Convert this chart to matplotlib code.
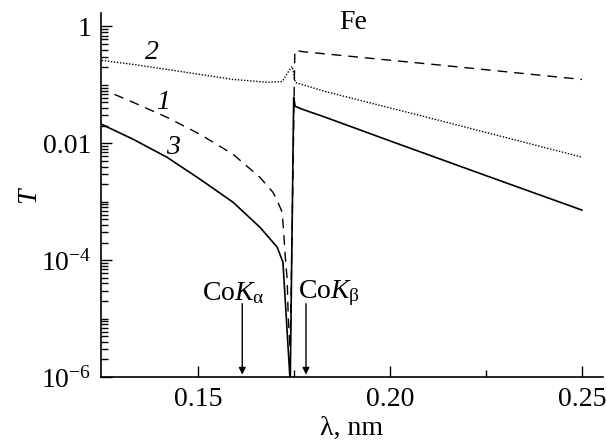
import numpy as np
import matplotlib
matplotlib.use("Agg")
import matplotlib.pyplot as plt
from matplotlib.ticker import FixedLocator, LogLocator, NullFormatter, FixedFormatter

plt.rcParams['font.family'] = ['Liberation Serif', 'DejaVu Serif']
plt.rcParams['mathtext.fontset'] = 'custom'
plt.rcParams['mathtext.rm'] = 'Liberation Serif'
plt.rcParams['mathtext.it'] = 'Liberation Serif:italic'

# curve 1 (dashed)
lam1 = [0.1282, 0.1331, 0.1419, 0.1505, 0.1591, 0.1661, 0.1695, 0.1708,
        0.1719, 0.1723, 0.1727, 0.1732, 0.1735, 0.1740,
        0.1752, 0.1773, 0.2125, 0.2500]
t1 = [0.0688, 0.0502, 0.0278, 0.01426, 0.00649, 0.00262, 0.00145, 9.8e-4,
      6.6e-4, 3.0e-4, 1.17e-4, 4.7e-5, 9.8e-6, 3.0e-6,
      0.39, 0.37, 0.22, 0.124]

# curve 2 (dotted)
lam2 = [0.1249, 0.1331, 0.1419, 0.1505, 0.1591, 0.1680, 0.1719, 0.1734, 0.1745,
        0.1748, 0.1753, 0.1831, 0.2125, 0.2500]
t2 = [0.262, 0.224, 0.184, 0.151, 0.124, 0.111, 0.114, 0.164, 0.207,
      0.17, 0.110, 0.077, 0.025, 0.0058]

# curve 3 (solid)
lam3 = [0.1249, 0.1331, 0.1419, 0.1505, 0.1591, 0.1661, 0.1706, 0.1721, 0.1740,
        0.1749, 0.1753, 0.1773, 0.1831, 0.2000, 0.2250, 0.2500]
t3 = [0.0211, 0.0117, 0.00577, 0.00243, 9.8e-4, 3.66e-4, 1.67e-4, 9.2e-5, 8.0e-7,
      0.061, 0.043, 0.038, 0.028, 0.011, 0.0028, 7.2e-4]

# Co lines marked by arrows
co_lines = [0.1615, 0.1781]
co_names = [r'Co$K_{\mathrm{α}}$', r'Co$K_{\mathrm{β}}$']

fig = plt.figure(figsize=(6.06, 4.44), dpi=100)
ax = fig.add_axes([0.1667, 0.1509, 0.8284, 0.8198])

ax.plot(lam1, t1, color='black', lw=1.0, ls=(0, (7, 5)))
ax.plot(lam2, t2, color='black', lw=1.0, ls=(0, (1, 1.2)))
ax.plot(lam3, t3, color='black', lw=1.2)

ax.set_yscale('log')
ax.set_xlim(0.1247, 0.2555)
ax.set_ylim(1e-6, 1.7)

ax.spines['top'].set_visible(False)
ax.spines['right'].set_visible(False)
for s in ('left', 'bottom'):
    ax.spines[s].set_linewidth(1.2)

ax.xaxis.set_major_locator(FixedLocator([0.15, 0.20, 0.25]))
ax.xaxis.set_major_formatter(FixedFormatter(['0.15', '0.20', '0.25']))
ax.xaxis.set_minor_locator(FixedLocator([0.175, 0.225]))

ax.yaxis.set_major_locator(FixedLocator([1, 1e-2, 1e-4, 1e-6]))
ax.yaxis.set_major_formatter(FixedFormatter(['1', '0.01', r'$10^{-4}$', r'$10^{-6}$']))
ax.yaxis.set_minor_locator(LogLocator(base=10, subs=np.arange(1, 10), numticks=20))
ax.yaxis.set_minor_formatter(NullFormatter())

ax.tick_params(which='both', direction='in', width=1.0, labelsize=20, color='black')
ax.tick_params(which='major', length=8)
ax.tick_params(which='minor', length=5)
ax.tick_params(axis='x', pad=7)
ax.tick_params(axis='y', pad=7)

ax.set_xlabel('λ, nm', fontsize=20, labelpad=3)
ax.set_ylabel('T', fontsize=20, style='italic', labelpad=0)

ax.text(0.1380, 0.36, '2', fontsize=20, style='italic', ha='center', va='center')
ax.text(0.1409, 0.050, '1', fontsize=20, style='italic', ha='center', va='center')
ax.text(0.1435, 0.0085, '3', fontsize=20, style='italic', ha='center', va='center')
ax.text(0.1904, 1.17, 'Fe', fontsize=20, ha='center', va='center')

text_x = [0.1591, 0.1840]
for x, tx, name in zip(co_lines, text_x, co_names):
    ax.annotate('', xy=(x, 1.1e-6), xytext=(x, 1.8e-5),
                arrowprops=dict(arrowstyle='-|>', color='black', lw=1.0,
                                mutation_scale=10, shrinkA=0, shrinkB=0))
    ax.text(tx, 2.7e-5, name, fontsize=20, ha='center', va='center')

fig.savefig('out.png', dpi=100)
